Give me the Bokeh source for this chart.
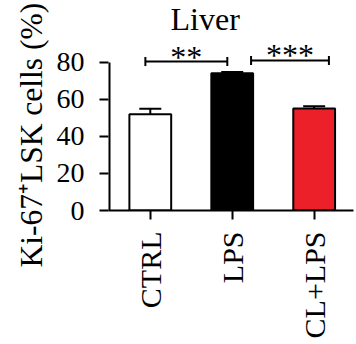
from math import pi
from bokeh.plotting import figure
from bokeh.models import Range1d, FixedTicker, Whisker, TeeHead, ColumnDataSource, Label, Title
from bokeh.core.properties import value
from bokeh.embed import file_html
from bokeh.resources import INLINE

# ---- data ----
groups = ["CTRL", "LPS", "CL+LPS"]
means = [52.0, 74.2, 55.1]
errors = [3.0, 0.6, 1.3]
colors = ["#FFFFFF", "#000000", "#EC2028"]
y_ticks = [0, 20, 40, 60, 80]
sig_start = [-0.06, 1.23]
sig_end = [0.94, 2.18]
sig_level = [80.5, 81.1]
sig_text = ["**", "***"]
title_text = "Liver"
y_label = "Ki-67\u207aLSK cells (%)"

FONT = "Liberation Serif"
xs = list(range(len(groups)))
X0 = -0.51

p = figure(width=356, height=344, output_backend="svg", toolbar_location=None,
           x_range=Range1d(X0, 2.48), y_range=Range1d(0, 113.5),
           min_border_left=108, min_border_right=3, min_border_top=0,
           min_border_bottom=134)
p.outline_line_color = None
p.grid.grid_line_color = None
p.background_fill_color = "white"
p.border_fill_color = "white"

src = ColumnDataSource(dict(
    x=xs, top=means, upper=[m + e for m, e in zip(means, errors)], color=colors))
p.vbar(x="x", top="top", width=0.51, bottom=0, fill_color="color",
       line_color="black", line_width=2, source=src)
p.add_layout(Whisker(base="x", lower="top", upper="upper", source=src,
                     dimension="height", line_color="black", line_width=2,
                     lower_head=None,
                     upper_head=TeeHead(size=22, line_width=2, line_color="black"),
                     level="overlay"))

# y-axis spine only over the 0..80 tick span (half of its width falls outside the frame)
p.segment(x0=[X0], y0=[y_ticks[0]], x1=[X0], y1=[y_ticks[-1]],
          line_color="black", line_width=4)

bsrc = ColumnDataSource(dict(
    x0=sig_start, x1=sig_end, y=sig_level, t=sig_text,
    xm=[(a + b) / 2 for a, b in zip(sig_start, sig_end)]))
p.add_layout(Whisker(base="y", lower="x0", upper="x1", source=bsrc,
                     dimension="width", line_color="black", line_width=2,
                     lower_head=TeeHead(size=9, line_width=2, line_color="black"),
                     upper_head=TeeHead(size=9, line_width=2, line_color="black"),
                     level="overlay"))
p.text(x="xm", y="y", text="t", source=bsrc, text_font=value(FONT),
       text_font_size="32px", text_align="center", text_baseline="alphabetic",
       y_offset=-5, text_color="black")
p.add_layout(Label(x=0.67, y=103.3, text=title_text, text_font=FONT,
                   text_font_size="32px", text_align="center",
                   text_baseline="alphabetic", text_color="black"))

# y axis
p.yaxis.ticker = FixedTicker(ticks=y_ticks)
p.yaxis.minor_tick_line_color = None
p.yaxis.major_tick_out = 9
p.yaxis.major_tick_in = 0
p.yaxis.major_tick_line_width = 2
p.yaxis.axis_line_color = None
p.yaxis.major_label_text_font = FONT
p.yaxis.major_label_text_font_size = "28px"
p.yaxis.major_label_text_color = "black"
p.yaxis.major_label_standoff = 15

# y-axis title, placed as a side title so it can start below the frame
p.add_layout(Title(text=y_label, align="left", offset=-57, standoff=10,
                   text_font=FONT, text_font_size="31.5px",
                   text_font_style="normal", text_color="black"), "left")

# x axis
p.xaxis.ticker = FixedTicker(ticks=xs)
p.xaxis.major_label_overrides = {i: g for i, g in zip(xs, groups)}
p.xaxis.major_label_orientation = pi / 2
p.xaxis.minor_tick_line_color = None
p.xaxis.major_tick_out = 9
p.xaxis.major_tick_in = 0
p.xaxis.major_tick_line_width = 2
p.xaxis.axis_line_width = 2
p.xaxis.major_label_text_font = FONT
p.xaxis.major_label_text_font_size = "30px"
p.xaxis.major_label_text_color = "black"
p.xaxis.major_label_standoff = 12

open("out.html", "w").write(file_html(p, INLINE))
